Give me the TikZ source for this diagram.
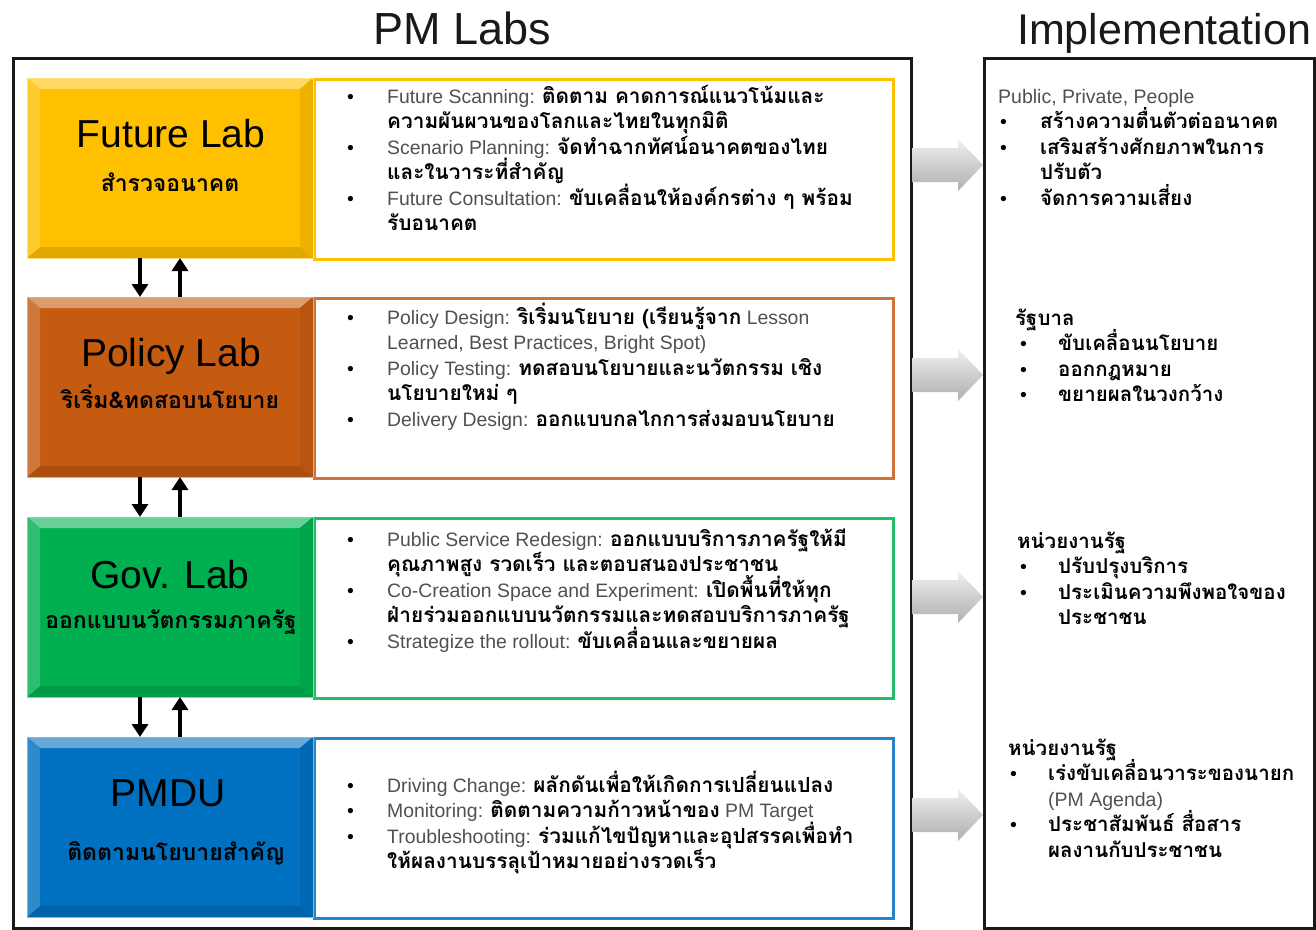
\documentclass[tikz,border=0pt]{standalone}
\usepackage{fontspec}
\setmainfont{Liberation Sans}
\newfontfamily\thaifont[Script=Thai]{Loma}
\usetikzlibrary{arrows.meta,calc}
\definecolor{cfut}{HTML}{FFC000}
\definecolor{cpol}{HTML}{C55A11}
\definecolor{cgov}{HTML}{00B050}
\definecolor{cpmd}{HTML}{0070C0}
\definecolor{engray}{HTML}{505050}
\newcommand{\tb}[1]{{\thaifont\bfseries #1}}
\newcommand{\ts}[1]{\smash{\fontsize{20.8}{25.5}\selectfont\thaifont\bfseries #1}}
\newcommand{\tsi}[1]{\smash{\fontsize{20.5}{25.5}\selectfont\thaifont\bfseries #1}}
\newcommand{\en}[1]{{\color{engray}#1}}
\newcommand{\bl}{\textbullet}
\newcommand{\bevelbox}[2]{%
  \fill[#2!60!white] (#1.north west) -- (#1.north east) -- ([xshift=-13pt,yshift=-11pt]#1.north east) -- ([xshift=13pt,yshift=-11pt]#1.north west) -- cycle;
  \fill[#2!88!black] (#1.south west) -- (#1.south east) -- ([xshift=-13pt,yshift=11pt]#1.south east) -- ([xshift=13pt,yshift=11pt]#1.south west) -- cycle;
  \fill[#2!82!white] (#1.north west) -- ([xshift=13pt,yshift=-11pt]#1.north west) -- ([xshift=13pt,yshift=11pt]#1.south west) -- (#1.south west) -- cycle;
  \fill[#2!93!black] (#1.north east) -- ([xshift=-13pt,yshift=-11pt]#1.north east) -- ([xshift=-13pt,yshift=11pt]#1.south east) -- (#1.south east) -- cycle;
  \draw[#2!50!white, line width=1pt] (#1.north west) rectangle (#1.south east);
}
\newcommand{\blockarrow}[1]{%
  \shade[top color=gray!12, bottom color=gray!62, middle color=gray!38]
  ([shift={(-35.5,-17)}]#1) -- ([shift={(10.5,-17)}]#1) -- ([shift={(10.5,-26)}]#1) -- ([shift={(35.5,0)}]#1) -- ([shift={(10.5,26)}]#1) -- ([shift={(10.5,17)}]#1) -- ([shift={(-35.5,17)}]#1) -- cycle;
}
\begin{document}
\begin{tikzpicture}[x=1pt,y=-1pt,
  frame/.style={draw=black!90, line width=3pt, anchor=north west, inner sep=0},
  labbox/.style={minimum width=286pt, minimum height=180pt, anchor=north west, inner sep=0, outer sep=0},
  detbox/.style={draw, line width=3pt, fill=white, minimum width=579pt, minimum height=180pt, anchor=north west, inner sep=0},
  bigtitle/.style={font=\fontsize{45}{48}\selectfont, text=black!90, inner sep=0},
  labtitle/.style={font=\fontsize{39}{42}\selectfont, text=black, inner sep=0, anchor=base},
  labsub/.style={font=\fontsize{23}{26}\selectfont\thaifont\bfseries, text=black, inner sep=0, anchor=base},
  listtxt/.style={font=\fontsize{19.4}{25.5}\selectfont, inner sep=0, anchor=north west},
  varr/.style={line width=3.5pt, -{Triangle[width=16pt,length=13pt]}}
]
\useasboundingbox (0,0) rectangle (1316,929);

% titles
\node[bigtitle, anchor=base] (t1) at (462,44) {PM Labs};
\node[bigtitle, font=\fontsize{43}{46}\selectfont, anchor=base west] (t2) at (1017,44) {Implementation};

% frames
\node[frame, minimum width=898pt, minimum height=870pt] (pmf) at (12,57) {};
\node[frame, minimum width=330pt, minimum height=870pt] (impf) at (983,57) {};

% detail boxes
\node[detbox, draw=cfut] (futd) at (313,78) {};
\node[detbox, draw=cpol!85!white] (pold) at (313,297) {};
\node[detbox, draw=cgov!85!white] (govd) at (313,517) {};
\node[detbox, draw=cpmd!85!white] (pmdd) at (313,737) {};

% colored lab boxes
\node[labbox, fill=cfut] (fut) at (27,78) {};
\bevelbox{fut}{cfut}
\node[labbox, fill=cpol] (pol) at (27,297) {};
\bevelbox{pol}{cpol}
\node[labbox, fill=cgov] (gov) at (27,517) {};
\bevelbox{gov}{cgov}
\node[labbox, fill=cpmd] (pmd) at (27,737) {};
\bevelbox{pmd}{cpmd}

\node[labtitle] (futt) at (171,147) {Future Lab};
\node[labsub] (futs) at (170,191) {สำรวจอนาคต};
\node[labtitle] (polt) at (171,366) {Policy Lab};
\node[labsub] (pols) at (170,408) {ริเริ่ม\&ทดสอบนโยบาย};
\node[labtitle] (govt) at (170,588) {Gov. Lab};
\node[labsub] (govs) at (171,628) {ออกแบบนวัตกรรมภาครัฐ};
\node[labtitle] (pmdt) at (168,806) {PMDU};
\node[labsub] (pmds) at (176,860) {ติดตามนโยบายสำคัญ};

% vertical arrows
\draw[varr] ([xshift=113pt]fut.south west) -- ([xshift=113pt]pol.north west);
\draw[varr] ([xshift=153pt]pol.north west) -- ([xshift=153pt]fut.south west);
\draw[varr] ([xshift=113pt]pol.south west) -- ([xshift=113pt]gov.north west);
\draw[varr] ([xshift=153pt]gov.north west) -- ([xshift=153pt]pol.south west);
\draw[varr] ([xshift=113pt]gov.south west) -- ([xshift=113pt]pmd.north west);
\draw[varr] ([xshift=153pt]pmd.north west) -- ([xshift=153pt]gov.south west);

% detail lists
\node[listtxt] (futl) at (347,85) {\begin{tabular}{@{}p{40pt}@{}l@{}}
\bl & \en{Future Scanning:} \ts{ติดตาม คาดการณ์แนวโน้มและ}\\
 & \ts{ความผันผวนของโลกและไทยในทุกมิติ}\\
\bl & \en{Scenario Planning:} \ts{จัดทำฉากทัศน์อนาคตของไทย}\\
 & \ts{และในวาระที่สำคัญ}\\
\bl & \en{Future Consultation:} \ts{ขับเคลื่อนให้องค์กรต่าง ๆ พร้อม}\\
 & \ts{รับอนาคต}
\end{tabular}};
\node[listtxt] (poll) at (347,306) {\begin{tabular}{@{}p{40pt}@{}l@{}}
\bl & \en{Policy Design:} \ts{ริเริ่มนโยบาย (เรียนรู้จาก} \en{Lesson}\\
 & \en{Learned, Best Practices, Bright Spot)}\\
\bl & \en{Policy Testing:} \ts{ทดสอบนโยบายและนวัตกรรม เชิง}\\
 & \ts{นโยบายใหม่ ๆ}\\
\bl & \en{Delivery Design:} \ts{ออกแบบกลไกการส่งมอบนโยบาย}
\end{tabular}};
\node[listtxt] (govl) at (347,528) {\begin{tabular}{@{}p{40pt}@{}l@{}}
\bl & \en{Public Service Redesign:} \ts{ออกแบบบริการภาครัฐให้มี}\\
 & \ts{คุณภาพสูง รวดเร็ว และตอบสนองประชาชน}\\
\bl & \en{Co-Creation Space and Experiment:} \ts{เปิดพื้นที่ให้ทุก}\\
 & \ts{ฝ่ายร่วมออกแบบนวัตกรรมและทดสอบบริการภาครัฐ}\\
\bl & \en{Strategize the rollout:} \ts{ขับเคลื่อนและขยายผล}
\end{tabular}};
\node[listtxt] (pmdl) at (347,774) {\begin{tabular}{@{}p{40pt}@{}l@{}}
\bl & \en{Driving Change:} \ts{ผลักดันเพื่อให้เกิดการเปลี่ยนแปลง}\\
\bl & \en{Monitoring:} \ts{ติดตามความก้าวหน้าของ} \en{PM Target}\\
\bl & \en{Troubleshooting:} \ts{ร่วมแก้ไขปัญหาและอุปสรรคเพื่อทำ}\\
 & \ts{ให้ผลงานบรรลุเป้าหมายอย่างรวดเร็ว}
\end{tabular}};

% block arrows
\coordinate (ba1) at (947.5,165);
\coordinate (ba2) at (947.5,375);
\coordinate (ba3) at (947.5,597);
\coordinate (ba4) at (947.5,815);
\blockarrow{ba1}
\blockarrow{ba2}
\blockarrow{ba3}
\blockarrow{ba4}

% implementation lists
\node[listtxt, font=\fontsize{19.5}{25.5}\selectfont] (impa) at (998,85) {\begin{tabular}{@{}p{42pt}@{}l@{}}
\multicolumn{2}{@{}l@{}}{\en{Public, Private, People}}\\
\hspace*{2pt}\bl & \tsi{สร้างความตื่นตัวต่ออนาคต}\\
\hspace*{2pt}\bl & \tsi{เสริมสร้างศักยภาพในการ}\\
 & \tsi{ปรับตัว}\\
\hspace*{2pt}\bl & \tsi{จัดการความเสี่ยง}
\end{tabular}};
\node[listtxt, font=\fontsize{19.5}{25.5}\selectfont] (impb) at (1015,307) {\begin{tabular}{@{}p{43pt}@{}l@{}}
\multicolumn{2}{@{}l@{}}{\tsi{รัฐบาล}}\\
\hspace*{5pt}\bl & \tsi{ขับเคลื่อนนโยบาย}\\
\hspace*{5pt}\bl & \tsi{ออกกฎหมาย}\\
\hspace*{5pt}\bl & \tsi{ขยายผลในวงกว้าง}
\end{tabular}};
\node[listtxt, font=\fontsize{19.5}{25.5}\selectfont] (impc) at (1017,530) {\begin{tabular}{@{}p{41pt}@{}l@{}}
\multicolumn{2}{@{}l@{}}{\tsi{หน่วยงานรัฐ}}\\
\hspace*{3pt}\bl & \tsi{ปรับปรุงบริการ}\\
\hspace*{3pt}\bl & \tsi{ประเมินความพึงพอใจของ}\\
 & \tsi{ประชาชน}
\end{tabular}};
\node[listtxt, font=\fontsize{19.5}{25.5}\selectfont] (impd) at (1008,737) {\begin{tabular}{@{}p{40pt}@{}l@{}}
\multicolumn{2}{@{}l@{}}{\tsi{หน่วยงานรัฐ}}\\
\hspace*{2pt}\bl & \tsi{เร่งขับเคลื่อนวาระของนายก}\\
 & \en{(PM Agenda)}\\
\hspace*{2pt}\bl & \tsi{ประชาสัมพันธ์ สื่อสาร}\\
 & \tsi{ผลงานกับประชาชน}
\end{tabular}};
\end{tikzpicture}
\end{document}
